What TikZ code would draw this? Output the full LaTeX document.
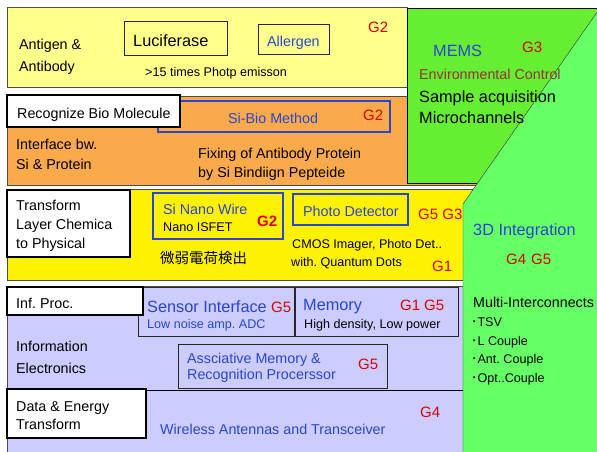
\documentclass[tikz,border=0pt]{standalone}
\usepackage{fontspec}
\setmainfont{Liberation Sans}
\newfontfamily\cjk{Noto Sans CJK JP}
\usetikzlibrary{positioning}
\frenchspacing
\definecolor{paleyel}{RGB}{255,255,140}
\definecolor{orng}{RGB}{250,170,75}
\definecolor{memsgreen}{RGB}{102,238,51}
\definecolor{litegreen}{RGB}{102,255,102}
\definecolor{lav}{RGB}{204,204,255}
\definecolor{tblue}{RGB}{40,70,210}
\definecolor{gred}{RGB}{220,0,0}
\definecolor{envred}{RGB}{150,50,50}

\begin{document}
\begin{tikzpicture}[x=1pt,y=-1pt,
  band/.style={draw=black!70,line width=1pt},
  labelbox/.style={draw=black,line width=1.2pt,fill=white},
  bluebox/.style={draw=tblue,line width=1.2pt},
  blackbox/.style={draw=black!85,line width=1pt},
  txt/.style={anchor=base west,inner sep=0pt,font=\fontsize{14.3}{17}\selectfont},
  big/.style={txt,font=\fontsize{16.3}{19}\selectfont},
  small/.style={txt,font=\fontsize{12.6}{15}\selectfont},
  gtag/.style={txt,text=gred,font=\fontsize{15}{18}\selectfont}]
\useasboundingbox (0,0) rectangle (597,452);

\path[band,fill=paleyel] (7,8) rectangle (407,87);
\path[band,fill=orng] (7,96) rectangle (485,185);
\path[band,fill=yellow] (7,189) rectangle (490,280);
\path[band,fill=lav] (7,286) rectangle (470,456);
\path[draw=black,fill=memsgreen] (407,8) rectangle (600,183);
\fill[litegreen] (600,8) -- (463,204) -- (463,456) -- (600,456) -- cycle;
\draw[black!80] (600,8) -- (463,204) -- (463,456);

\path[blackbox] (124,22) rectangle (227,56);
\path[blackbox] (258,25) rectangle (329,55);
\path[bluebox] (158,101) rectangle (390,132);
\path[labelbox] (7,95) rectangle (180,127);
\path[labelbox] (7,190) rectangle (130,257);
\path[bluebox] (153,193) rectangle (283,239);
\path[bluebox] (293,194) rectangle (408,225);
\path[blackbox,fill=lav] (138,287) rectangle (294,336);
\path[blackbox,fill=lav] (295,287) rectangle (458,336);
\path[labelbox] (7,287) rectangle (143,315);
\path[blackbox] (178,344) rectangle (387,388);
\draw[black,line width=1pt] (7,390) -- (463,390);
\path[labelbox] (7,389) rectangle (146,438);

\node[txt] (antigen) at (19,50) {Antigen \&};
\node[txt] (antibody) at (19,71) {Antibody};
\node[big] (lucif) at (133,47) {Luciferase};
\node[txt,text=tblue] (allerg) at (267,47) {Allergen};
\node[small] (photp) at (145,77) {>15 times Photp emisson};
\node[gtag] (g2a) at (368,33) {G2};

\node[big,text=tblue] (mems) at (433,57) {MEMS};
\node[gtag] (g3a) at (522,53) {G3};
\node[txt,text=envred] (envctl) at (419,80) {Environmental Control};
\node[big] (sample) at (419,102) {Sample acquisition};
\node[big] (micro) at (419,123) {Microchannels};

\node[txt] (recog) at (17,118) {Recognize Bio Molecule};
\node[txt,text=tblue] (sibio) at (228,123) {Si-Bio Method};
\node[gtag] (g2b) at (363,121) {G2};
\node[txt] (intf) at (16,149) {Interface bw.};
\node[txt] (siprot) at (16,169) {Si \& Protein};
\node[txt] (fixing) at (198,158) {Fixing of Antibody Protein};
\node[txt] (binding) at (198,177) {by Si Bindiign Pepteide};

\node[txt] (transf) at (16,210) {Transform};
\node[txt] (layer) at (16,229) {Layer Chemica};
\node[txt] (tophys) at (16,248) {to Physical};
\node[txt,text=tblue] (nanowire) at (163,214) {Si Nano Wire};
\node[small] (isfet) at (163,231) {Nano ISFET};
\node[gtag,font=\bfseries\fontsize{15}{18}\selectfont] (g2c) at (257,226) {G2};
\node[txt,font=\cjk\fontsize{14.5}{17}\selectfont] (charge) at (160,263) {微弱電荷検出};
\node[txt,text=tblue] (photodet) at (303,216) {Photo Detector};
\node[gtag] (g5g3) at (418,219) {G5 G3};
\node[small] (cmos) at (292,248) {CMOS Imager, Photo Det..};
\node[small] (qdots) at (291,266) {with. Quantum Dots};
\node[gtag] (g1a) at (432,271) {G1};

\node[big,text=tblue] (integ) at (473,235) {3D Integration};
\node[gtag] (g4g5) at (506,264) {G4\hspace{5pt}G5};
\node[txt] (multi) at (473,307) {Multi-Interconnects};
\node[small] (tsv) at (471,326) {{\cjk ･}TSV};
\node[small] (lcpl) at (471,345) {{\cjk ･}L Couple};
\node[small] (antcpl) at (471,363) {{\cjk ･}Ant. Couple};
\node[small] (optcpl) at (471,382) {{\cjk ･}Opt..Couple};

\node[txt] (infproc) at (16,308) {Inf. Proc.};
\node[big,text=tblue] (sensor) at (147,312) {Sensor Interface};
\node[gtag] (g5a) at (271,312) {G5};
\node[small,text=tblue] (lownoise) at (147,328) {Low noise amp. ADC};
\node[big,text=tblue] (memory) at (303,310) {Memory};
\node[gtag] (g1g5) at (400,310) {G1\hspace{4pt}G5};
\node[small] (highden) at (304,328) {High density, Low power};
\node[txt] (inform) at (16,351) {Information};
\node[txt] (electr) at (16,373) {Electronics};
\node[txt,text=tblue] (assoc) at (187,363) {Assciative Memory \&};
\node[txt,text=tblue] (recproc) at (187,379) {Recognition Procerssor};
\node[gtag] (g5b) at (358,369) {G5};
\node[txt] (dataen) at (16,411) {Data \& Energy};
\node[txt] (transf2) at (16,429) {Transform};
\node[txt,text=tblue] (wireless) at (160,434) {Wireless Antennas and Transceiver};
\node[gtag] (g4a) at (420,417) {G4};
\end{tikzpicture}
\end{document}
